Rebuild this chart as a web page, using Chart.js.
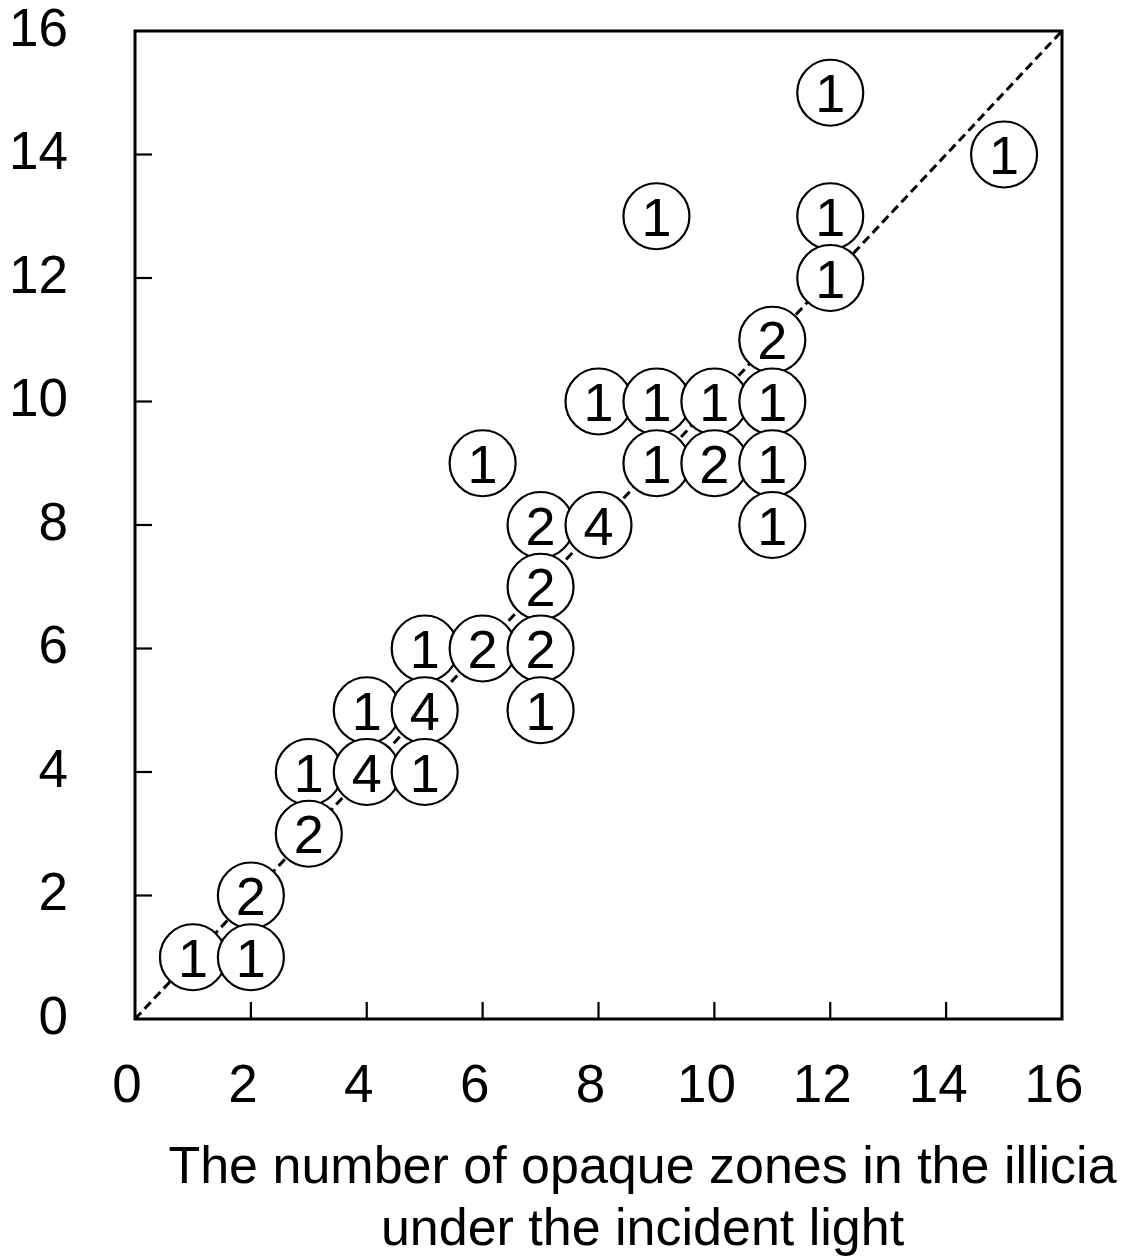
<!DOCTYPE html>
<html>
<head>
<meta charset="utf-8">
<title>Opaque zones in the illicia</title>
<script src="https://cdn.jsdelivr.net/npm/chart.js@4.4.1/dist/chart.umd.min.js"></script>
<style>
  html, body { margin: 0; padding: 0; background: #fff; }
  #wrap { width: 1136px; height: 1257px; }
</style>
</head>
<body>
<div id="wrap"><canvas id="chart" width="1136" height="1257"></canvas></div>
<script>
// Paired zone counts (x: incident light, y: second reading) and how many
// specimens share each pair. Listed top row first so lower circles overlap upper ones.
const xValues = [12, 15, 9, 12, 12, 11, 8, 9, 10, 11, 6, 9, 10, 11, 7, 8, 11, 7, 5, 6, 7, 4, 5, 7, 3, 4, 5, 3, 2, 1, 2];
const yValues = [15, 14, 13, 13, 12, 11, 10, 10, 10, 10, 9, 9, 9, 9, 8, 8, 8, 7, 6, 6, 6, 5, 5, 5, 4, 4, 4, 3, 2, 1, 1];
const counts  = [1, 1, 1, 1, 1, 2, 1, 1, 1, 1, 1, 1, 2, 1, 2, 4, 1, 2, 1, 2, 2, 1, 4, 1, 1, 4, 1, 2, 2, 1, 1];

// 1:1 reference line
const lineX = [0, 16];
const lineY = [0, 16];

const axisTicks = [0, 2, 4, 6, 8, 10, 12, 14, 16];
const xTitleLines = ['The number of opaque zones in the illicia', 'under the incident light'];

const FONT = '"Liberation Sans", Arial, Helvetica, sans-serif';

const points = xValues.map((x, i) => ({ x: x, y: yValues[i] }));
const diagonal = lineX.map((x, i) => ({ x: x, y: lineY[i] }));

// Frame, inward tick marks and the two-line x title
const framePlugin = {
  id: 'frame',
  afterDatasetsDraw(chart) {
    const { ctx, chartArea: a, scales } = chart;
    ctx.save();
    ctx.strokeStyle = '#000';
    ctx.lineWidth = 2.2;
    const len = 17;
    axisTicks.forEach(v => {
      if (v === 0 || v === 16) return;
      const px = scales.x.getPixelForValue(v);
      ctx.beginPath();
      ctx.moveTo(px, a.bottom);
      ctx.lineTo(px, a.bottom - len);
      ctx.stroke();
      const py = scales.y.getPixelForValue(v);
      ctx.beginPath();
      ctx.moveTo(a.left, py);
      ctx.lineTo(a.left + len, py);
      ctx.stroke();
    });
    ctx.lineWidth = 3;
    ctx.strokeRect(a.left, a.top, a.right - a.left, a.bottom - a.top);

    ctx.fillStyle = '#000';
    ctx.font = '52px ' + FONT;
    ctx.textAlign = 'center';
    ctx.textBaseline = 'alphabetic';
    const cx = (a.left + a.right) / 2 + 44;
    ctx.fillText(xTitleLines[0], cx, a.bottom + 164);
    ctx.fillText(xTitleLines[1], cx, a.bottom + 226);
    ctx.restore();
  }
};

// Count written inside each circle
const countLabels = {
  id: 'countLabels',
  afterDatasetsDraw(chart) {
    const meta = chart.getDatasetMeta(0);
    const { ctx } = chart;
    ctx.save();
    ctx.fillStyle = '#000';
    ctx.font = '54px ' + FONT;
    ctx.textAlign = 'center';
    ctx.textBaseline = 'alphabetic';
    meta.data.forEach((el, i) => {
      ctx.fillText(String(counts[i]), el.x, el.y + 19.5);
    });
    ctx.restore();
  }
};

new Chart(document.getElementById('chart'), {
  type: 'scatter',
  data: {
    datasets: [
      {
        data: points,
        order: 1,
        clip: false,
        pointRadius: 33,
        pointHoverRadius: 33,
        pointBackgroundColor: '#fff',
        pointBorderColor: '#000',
        pointBorderWidth: 2.2,
        pointHoverBorderWidth: 2.2
      },
      {
        type: 'line',
        data: diagonal,
        order: 2,
        borderColor: '#000',
        borderWidth: 3,
        borderDash: [9, 5],
        pointRadius: 0,
        fill: false
      }
    ]
  },
  options: {
    responsive: false,
    animation: false,
    events: [],
    layout: { autoPadding: false, padding: { top: 31, right: 74, bottom: 0, left: 0 } },
    plugins: { legend: { display: false }, tooltip: { enabled: false } },
    scales: {
      x: {
        type: 'linear',
        min: 0, max: 16,
        afterBuildTicks(scale) { scale.ticks = axisTicks.map(v => ({ value: v })); },
        afterFit(scale) {
          scale.height = 238;
          scale.paddingLeft = 0;
          scale.paddingRight = 0;
        },
        grid: { display: false, drawTicks: false },
        border: { display: false },
        ticks: {
          color: '#000',
          padding: 37,
          labelOffset: -8,
          maxRotation: 0,
          autoSkip: false,
          font: { family: FONT, size: 53, lineHeight: 1.2 }
        }
      },
      y: {
        type: 'linear',
        min: 0, max: 16,
        afterBuildTicks(scale) { scale.ticks = axisTicks.map(v => ({ value: v })); },
        afterFit(scale) {
          scale.width = 135;
          scale.paddingTop = 0;
          scale.paddingBottom = 0;
        },
        grid: { display: false, drawTicks: false },
        border: { display: false },
        ticks: {
          color: '#000',
          padding: 67,
          autoSkip: false,
          font: { family: FONT, size: 53, lineHeight: 1.0 }
        }
      }
    }
  },
  plugins: [framePlugin, countLabels]
});
</script>
</body>
</html>
